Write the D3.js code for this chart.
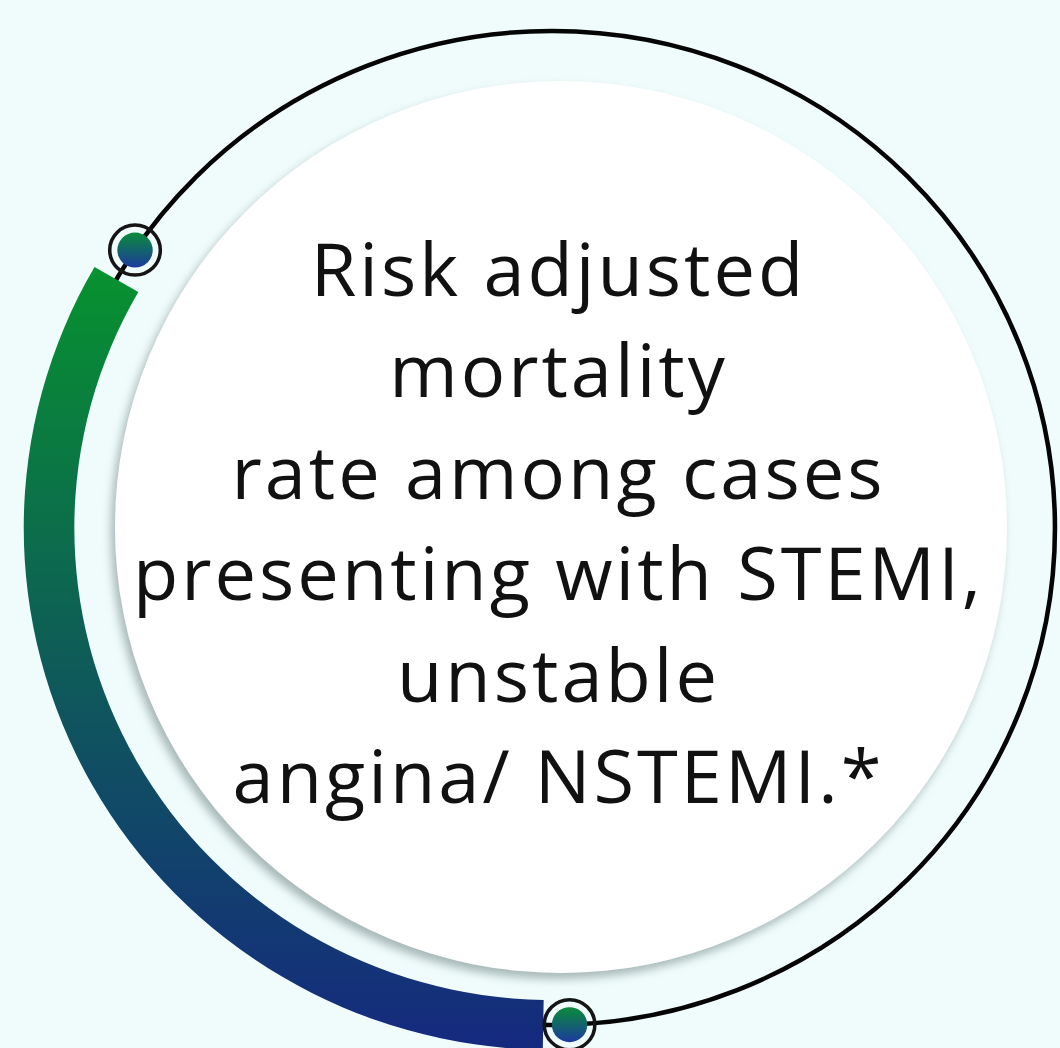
<!DOCTYPE html>
<html><head><meta charset="utf-8">
<script src="https://cdn.jsdelivr.net/npm/d3@7"></script>
<style>html,body{margin:0;padding:0;background:#effcfb;overflow:hidden}</style>
</head><body><svg id="c" width="1060" height="1048"></svg>
<script>
// ---- data ----
const titleLines = ["Risk adjusted", "mortality", "rate among cases", "presenting with STEMI,", "unstable", "angina/ NSTEMI.*"];
const progressArc = [181, 300];      // degrees, clockwise from 12 o'clock
const markerAngles = [178, 304];     // degrees, the two end markers
const arcColors = ["#07922f", "#0e5c58", "#15297f"];
const dotColors = ["#0b8c3a", "#1c3a9e"];

// ---- layout ----
const W = 1060, H = 1048;
const cx = 552, cy = 528, R = 497, sx = 1.012;
const bandW = 50;
const innerCx = 561, innerCy = 527, innerR = 446;
const letterSp = 3;

const svg = d3.select("#c");
const defs = svg.append("defs");

const deg = d3.scaleLinear().domain([0, 360]).range([0, 2 * Math.PI]);

const g1 = defs.append("linearGradient").attr("id", "arcGrad")
  .attr("gradientUnits", "userSpaceOnUse").attr("x1", 0).attr("x2", 0)
  .attr("y1", -262).attr("y2", 522);
arcColors.forEach((c, i) => g1.append("stop").attr("offset", i / (arcColors.length - 1)).attr("stop-color", c));

const g2 = defs.append("linearGradient").attr("id", "dotGrad")
  .attr("x1", 0).attr("x2", 0).attr("y1", 0).attr("y2", 1);
dotColors.forEach((c, i) => g2.append("stop").attr("offset", i).attr("stop-color", c));

const f = defs.append("filter").attr("id", "shadow").attr("x", "-20%").attr("y", "-20%").attr("width", "140%").attr("height", "140%");
f.append("feDropShadow").attr("dx", -4).attr("dy", 6).attr("stdDeviation", 5)
  .attr("flood-color", "#8fa0a0").attr("flood-opacity", 0.75);

svg.append("rect").attr("width", W).attr("height", H).attr("fill", "#effcfb");

// inner white disc
svg.append("circle").attr("cx", innerCx).attr("cy", innerCy).attr("r", innerR)
  .attr("fill", "#ffffff").attr("filter", "url(#shadow)");

const g = svg.append("g").attr("transform", `translate(${cx},${cy}) scale(${sx},1)`);

// thin outer ring
g.append("circle").attr("r", R).attr("fill", "none").attr("stroke", "#050505").attr("stroke-width", 4.5);

// progress arc
const arc = d3.arc().innerRadius(R - bandW / 2).outerRadius(R + bandW / 2);
g.append("path")
  .attr("d", arc({ startAngle: deg(progressArc[0]), endAngle: deg(progressArc[1]) }))
  .attr("fill", "url(#arcGrad)");

// end markers
const mk = g.selectAll("g.mk").data(markerAngles).join("g").attr("class", "mk")
  .attr("transform", d => {
    const a = deg(d);
    return `translate(${R * Math.sin(a)},${-R * Math.cos(a)})`;
  });
mk.append("circle").attr("r", 25).attr("fill", "none").attr("stroke", "#151515").attr("stroke-width", 3.5);
mk.append("circle").attr("r", 17.5).attr("fill", "url(#dotGrad)");

// title text
const y = d3.scalePoint().domain(titleLines).range([296, 803]);
svg.append("g").selectAll("text").data(titleLines).join("text")
  .attr("x", 557 + letterSp / 2).attr("y", d => y(d))
  .attr("text-anchor", "middle")
  .attr("font-family", "'Open Sans', 'Noto Sans', sans-serif")
  .attr("font-size", 74).attr("fill", "#111")
  .attr("letter-spacing", letterSp)
  .text(d => d);
</script>
</body></html>
